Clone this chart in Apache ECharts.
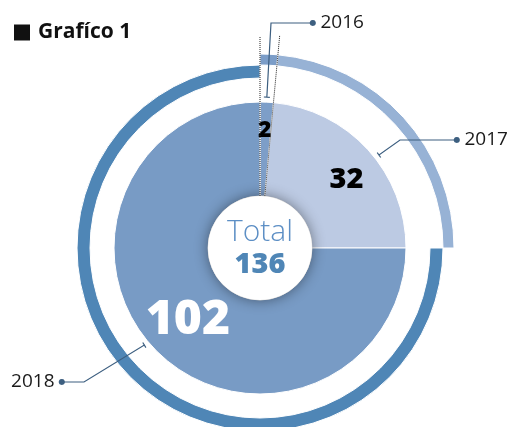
<!DOCTYPE html>
<html>
<head>
<meta charset="utf-8">
<script src="https://cdn.jsdelivr.net/npm/echarts@6/dist/echarts.min.js"></script>
<style>
  html, body { margin: 0; padding: 0; background: #fff; }
  #chart { width: 507px; height: 427px; }
</style>
</head>
<body>
<div id="chart"></div>
<script>
const years = ['2016', '2017', '2018']
const values = [2, 32, 102]
const totalLabel = 'Total'
const titleText = 'Grafíco 1'

const total = values.reduce((s, v) => s + v, 0)

const innerColors = ['#7d9ec8', '#bccae3', '#789bc5']
const ringColors = ['#7b9dc8', '#97b2d5', '#4f86b6']

const cx = 260
const cy = 248

// angle in degrees, clockwise from 12 o'clock
const polar = (r, deg) => {
  const a = deg * Math.PI / 180
  return [cx + r * Math.sin(a), cy - r * Math.cos(a)]
}

// slice boundaries (start of each slice except the wrap-around)
const boundaries = []
let cum = 0
values.forEach((v, i) => {
  if (i < values.length - 1) boundaries.push(cum / total * 360)
  cum += v
})
const boundaryLen = [212, 213, 230]

// leader lines for the year labels
const anno = [
  { angle: 2.6, elbow: [271, 23], dot: [312, 23], side: 'left' },
  { angle: 52, elbow: [400, 140], dot: [456, 140], side: 'left' },
  { angle: 230, elbow: [84, 382], dot: [63, 382], side: 'right' }
]

const chart = echarts.init(document.getElementById('chart'))

const option = {
  animation: false,
  title: {
    text: '{sq| }{t|' + titleText + '}',
    left: 9,
    top: 17,
    textStyle: {
      rich: {
        sq: { width: 16, height: 16, backgroundColor: '#111' },
        t: { fontFamily: 'Open Sans', fontWeight: 'bold', fontSize: 21, color: '#111', padding: [0, 0, 0, 8] }
      }
    }
  },
  graphic: boundaries.map((deg, i) => {
    const p1 = polar(52, deg)
    const p2 = polar(boundaryLen[i], deg)
    return {
      type: 'line',
      z: 3,
      shape: { x1: p1[0], y1: p1[1], x2: p2[0], y2: p2[1] },
      style: { stroke: '#222', lineWidth: 1, lineDash: [1, 1] }
    }
  }),
  series: [
    {
      type: 'pie',
      center: [cx, cy],
      radius: [52, 146],
      z: 2,
      silent: true,
      avoidLabelOverlap: false,
      itemStyle: { borderColor: '#fff', borderWidth: 1 },
      label: {
        show: true,
        position: 'inside',
        fontFamily: 'Open Sans',
        fontWeight: 800,
        formatter: '{c}'
      },
      labelLine: { show: false },
      labelLayout: (params) => {
        if (params.dataIndex === 0) return { dy: -16 }
        if (params.dataIndex === 1) return { dx: 11 }
        return {}
      },
      data: values.map((v, i) => ({
        name: years[i],
        value: v,
        itemStyle: { color: innerColors[i] },
        label: i === 2
          ? { color: '#fff', fontSize: 48 }
          : { color: '#000', fontSize: i === 0 ? 23 : 29 }
      }))
    },
    {
      type: 'pie',
      center: [cx, cy],
      radius: [183, 194],
      z: 2,
      silent: true,
      label: { show: false },
      itemStyle: { borderColor: '#fff', borderWidth: 1 },
      data: values.map((v, i) => ({
        name: years[i],
        value: v,
        itemStyle: i === 2 ? { color: 'transparent', borderColor: 'transparent' } : { color: ringColors[i] }
      }))
    },
    {
      type: 'pie',
      center: [cx, cy],
      radius: [170, 183],
      z: 2,
      silent: true,
      label: { show: false },
      itemStyle: { borderColor: '#fff', borderWidth: 1 },
      data: values.map((v, i) => ({
        name: years[i],
        value: v,
        itemStyle: i === 2 ? { color: ringColors[i] } : { color: 'transparent', borderColor: 'transparent' }
      }))
    },
    {
      // invisible copy that carries the year labels and leader lines
      type: 'pie',
      center: [cx, cy],
      radius: [0, 150],
      z: 4,
      silent: true,
      avoidLabelOverlap: false,
      itemStyle: { color: 'transparent' },
      label: {
        show: true,
        position: 'outside',
        formatter: (p) => anno[p.dataIndex].side === 'left'
          ? '{d|●}{t|' + p.name + '}'
          : '{t|' + p.name + '}{d|●}',
        rich: {
          d: { fontSize: 8, color: '#3d5f80', fontFamily: 'DejaVu Sans' },
          t: { fontSize: 19, color: '#1a1a1a', fontFamily: 'Open Sans', padding: [0, 4, 0, 4] }
        }
      },
      labelLine: { show: true, lineStyle: { color: '#3d5f80', width: 1.2 } },
      labelLayout: (params) => {
        const a = anno[params.dataIndex]
        const tick = polar(151, a.angle)
        let dx = a.elbow[0] - tick[0]
        let dy = a.elbow[1] - tick[1]
        const len = Math.sqrt(dx * dx + dy * dy)
        dx /= len
        dy /= len
        const tA = [tick[0] - dy * 3, tick[1] + dx * 3]
        const tB = [tick[0] + dy * 3, tick[1] - dx * 3]
        return {
          x: a.side === 'left' ? a.dot[0] - 2.5 : a.dot[0] + 2.5,
          y: a.dot[1],
          align: a.side,
          verticalAlign: 'middle',
          labelLinePoints: [tA, tB, tick, a.elbow, a.dot]
        }
      },
      data: values.map((v, i) => ({ name: years[i], value: v }))
    },
    {
      type: 'pie',
      center: [cx, cy],
      radius: [0, 52],
      z: 6,
      silent: true,
      itemStyle: {
        color: '#fff',
        shadowBlur: 14,
        shadowColor: 'rgba(0, 0, 0, 0.45)'
      },
      label: {
        show: true,
        position: 'center',
        formatter: '{a|' + totalLabel + '}\n{b|' + total + '}',
        rich: {
          a: { fontFamily: 'Open Sans', fontWeight: 300, fontSize: 30, color: '#5d8fc5', lineHeight: 33 },
          b: { fontFamily: 'Open Sans', fontWeight: 800, fontSize: 29, color: '#4f86b6', lineHeight: 31 }
        }
      },
      labelLine: { show: false },
      data: [{ name: totalLabel, value: total }]
    }
  ]
}

chart.setOption(option)

window.addEventListener('resize', () => {
  chart.resize()
})
</script>
</body>
</html>
